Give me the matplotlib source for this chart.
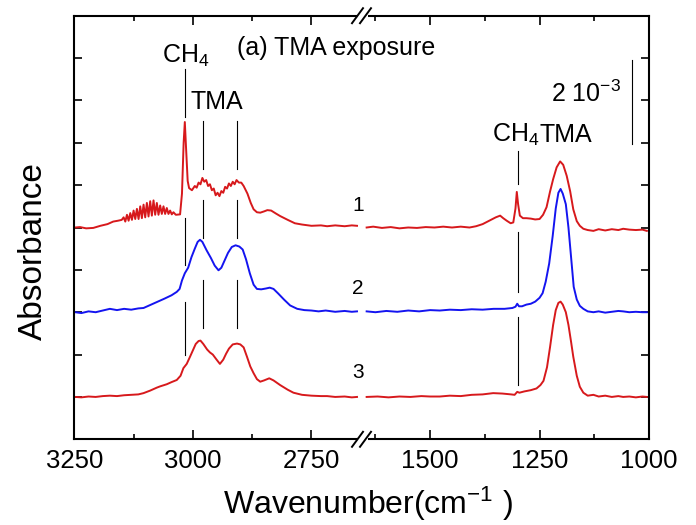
import matplotlib
matplotlib.use("Agg")
import matplotlib.pyplot as plt
from matplotlib.lines import Line2D
import numpy as np

# ================== DATA (absorbance in units of 1e-3, relative to each baseline) ==================
# spectrum 1 (red, top), high wavenumber part
wn1_hi = [3248, 3238, 3225, 3210, 3195, 3180, 3168, 3158, 3150,
          3146.0, 3142.5, 3139.0, 3135.5, 3132.0, 3128.5, 3125.0, 3121.5, 3118.0, 3114.5,
          3111.0, 3107.5, 3104.0, 3100.5, 3097.0, 3093.5, 3090.0, 3086.5, 3083.0, 3079.5,
          3076.0, 3072.5, 3069.0, 3065.5, 3062.0, 3058.5, 3055.0, 3051.5, 3048.0, 3044.5, 3041.0,
          3036, 3027, 3023, 3019.5, 3017, 3014.5, 3011, 3008, 3002,
          2996, 2992, 2988, 2984, 2980, 2976, 2972, 2968, 2964, 2960, 2956, 2952, 2948, 2944,
          2940, 2936, 2932, 2928, 2924, 2920, 2916, 2912, 2908, 2903, 2898, 2893, 2885, 2878,
          2872, 2865, 2858, 2850, 2843, 2835, 2825, 2816, 2800, 2785, 2770, 2750, 2730, 2717,
          2700, 2680, 2665, 2654]
ab1_hi = [0.00, 0.01, -0.02, -0.01, 0.04, 0.08, 0.14, 0.16, 0.18,
          0.24, 0.14, 0.30, 0.16, 0.34, 0.18, 0.40, 0.20, 0.44, 0.20,
          0.50, 0.22, 0.54, 0.24, 0.58, 0.26, 0.62, 0.28, 0.64, 0.30,
          0.58, 0.30, 0.52, 0.32, 0.50, 0.32, 0.46, 0.32, 0.40, 0.31, 0.36,
          0.30, 0.31, 0.80, 2.00, 2.49, 1.90, 1.10, 0.93, 0.88,
          0.98, 0.94, 1.06, 1.02, 1.17, 1.08, 1.12, 0.98, 1.02, 0.88, 0.92, 0.76, 0.82, 0.74,
          0.86, 0.82, 0.96, 0.92, 1.04, 0.98, 1.08, 1.02, 1.12, 1.06, 1.06, 0.98, 0.80, 0.58,
          0.43, 0.36, 0.35, 0.38, 0.41, 0.40, 0.33, 0.27, 0.18, 0.10, 0.07, 0.04, 0.05, 0.03,
          0.05, 0.03, 0.05, 0.04]

# spectrum 1, low wavenumber part
wn1_lo = [1645, 1630, 1610, 1590, 1570, 1550, 1530, 1510, 1490, 1470, 1450, 1430, 1410,
          1395, 1380, 1365, 1350, 1340, 1333, 1325, 1316, 1310, 1305, 1302, 1299, 1295,
          1288, 1280, 1270, 1260, 1250, 1242, 1234, 1226, 1219, 1211, 1203, 1196, 1188,
          1180, 1173, 1165, 1158, 1150, 1140, 1127, 1115, 1100, 1085, 1070, 1059, 1045,
          1030, 1015, 1005]
ab1_lo = [0.00, 0.02, -0.01, 0.01, -0.02, 0.00, -0.01, 0.01, 0.00, 0.02, 0.00, 0.02, 0.00,
          0.03, 0.08, 0.16, 0.24, 0.28, 0.22, 0.16, 0.10, 0.12, 0.45, 0.84, 0.55, 0.28,
          0.22, 0.22, 0.21, 0.19, 0.20, 0.30, 0.48, 0.85, 1.14, 1.42, 1.56, 1.48, 1.22,
          0.85, 0.43, 0.15, 0.04, -0.03, -0.06, -0.08, -0.04, -0.07, -0.04, -0.06, -0.03, -0.05,
          -0.06, -0.05, -0.08]

# spectrum 2 (blue, middle)
wn2_hi = [3248, 3235, 3220, 3205, 3190, 3175, 3160, 3145, 3130, 3115, 3104, 3090, 3076,
          3060, 3045, 3034, 3028, 3023, 3017, 3010, 3003, 2996, 2990, 2985, 2980, 2971,
          2962, 2954, 2946, 2940, 2934, 2926, 2918, 2910, 2902, 2895, 2888, 2880, 2872,
          2865, 2856, 2846, 2838, 2830, 2820, 2808, 2795, 2780, 2765, 2750, 2735, 2720,
          2700, 2680, 2665, 2654]
ab2_hi = [0.00, -0.02, 0.02, 0.00, 0.04, 0.08, 0.05, 0.08, 0.06, 0.09, 0.10, 0.17, 0.24,
          0.32, 0.40, 0.48, 0.55, 0.75, 0.92, 1.05, 1.30, 1.50, 1.66, 1.71, 1.66, 1.46,
          1.28, 1.10, 0.99, 1.05, 1.20, 1.40, 1.54, 1.58, 1.55, 1.48, 1.25, 0.92, 0.65,
          0.55, 0.54, 0.56, 0.58, 0.55, 0.44, 0.30, 0.16, 0.08, 0.05, 0.04, 0.02, 0.04,
          0.01, 0.03, 0.01, 0.02]
wn2_lo = [1645, 1625, 1600, 1575, 1550, 1525, 1500, 1478, 1455, 1430, 1405, 1380, 1355,
          1330, 1312, 1305, 1301, 1297, 1290, 1280, 1270, 1260, 1250, 1243, 1236, 1228,
          1220, 1213, 1207, 1202, 1197, 1190, 1184, 1178, 1172, 1165, 1158, 1150, 1140,
          1127, 1115, 1100, 1085, 1070, 1059, 1045, 1030, 1015, 1005]
ab2_lo = [0.02, 0.00, 0.03, 0.01, 0.04, 0.02, 0.05, 0.04, 0.06, 0.05, 0.07, 0.06, 0.08,
          0.08, 0.10, 0.13, 0.20, 0.14, 0.14, 0.18, 0.20, 0.25, 0.34, 0.45, 0.72, 1.15,
          1.80, 2.45, 2.82, 2.91, 2.80, 2.55, 2.00, 1.30, 0.60, 0.30, 0.15, 0.08, 0.02,
          0.00, 0.02, -0.01, 0.01, 0.03, 0.02, 0.00, 0.01, 0.00, 0.00]

# spectrum 3 (red, bottom)
wn3_hi = [3248, 3235, 3220, 3205, 3190, 3175, 3160, 3145, 3130, 3115, 3104, 3090, 3076,
          3069, 3055, 3045, 3034, 3026, 3020, 3013, 3006, 3000, 2994, 2988, 2984, 2978,
          2970, 2964, 2958, 2950, 2943, 2936, 2930, 2924, 2916, 2907, 2900, 2893, 2886,
          2879, 2872, 2865, 2858, 2850, 2839, 2830, 2816, 2800, 2788, 2770, 2750, 2730,
          2717, 2700, 2680, 2665, 2654]
ab3_hi = [0.00, -0.01, 0.01, 0.00, 0.02, 0.03, 0.02, 0.04, 0.05, 0.06, 0.09, 0.15, 0.22,
          0.25, 0.30, 0.35, 0.40, 0.50, 0.68, 0.78, 0.95, 1.10, 1.25, 1.32, 1.33, 1.25,
          1.12, 1.05, 1.00, 0.88, 0.78, 0.88, 1.02, 1.14, 1.24, 1.26, 1.24, 1.17, 0.95,
          0.72, 0.56, 0.42, 0.36, 0.39, 0.44, 0.39, 0.28, 0.17, 0.10, 0.05, 0.03, 0.02,
          0.02, 0.00, 0.01, -0.01, 0.00]
wn3_lo = [1645, 1620, 1595, 1570, 1545, 1520, 1500, 1478, 1455, 1430, 1405, 1380, 1356,
          1335, 1315, 1307, 1301, 1296, 1285, 1270, 1257, 1248, 1241, 1233, 1226, 1219,
          1213, 1207, 1202, 1197, 1190, 1184, 1178, 1173, 1165, 1158, 1150, 1140, 1127,
          1115, 1100, 1085, 1070, 1059, 1045, 1030, 1015, 1005]
ab3_lo = [0.00, 0.01, -0.01, 0.01, 0.00, 0.02, 0.01, 0.01, 0.03, 0.02, 0.05, 0.06, 0.09,
          0.08, 0.06, 0.05, 0.12, 0.10, 0.13, 0.16, 0.20, 0.28, 0.38, 0.70, 1.18, 1.70,
          2.05, 2.22, 2.25, 2.18, 2.00, 1.70, 1.30, 0.95, 0.50, 0.24, 0.10, 0.03, 0.05,
          0.01, 0.03, 0.00, 0.02, 0.00, 0.01, -0.01, 0.01, 0.00]

offsets = [5.0, 3.0, 1.0]          # baselines (1e-3)
colors = ["#d7191c", "#1414f0", "#d7191c"]
curve_labels = ["1", "2", "3"]

# marker lines: wavenumber, list of (bottom, top) segments in 1e-3
markers_hi = [(3017, [(7.61, 8.74), (4.12, 5.23), (1.99, 3.24)]),
              (2978, [(6.38, 7.51), (4.75, 5.65), (2.62, 3.76)]),
              (2907, [(6.38, 7.51), (4.75, 5.65), (2.62, 3.76)])]
markers_lo = [(1300, [(6.03, 6.81), (3.48, 4.90), (1.28, 2.89)])]

scale_bar = (1038, 6.97, 8.95)
unit = 1e-3

# ================== STYLE ==================
plt.rcParams['font.family'] = ['Liberation Sans', 'DejaVu Sans']
plt.rcParams['mathtext.fontset'] = 'custom'
plt.rcParams['mathtext.rm'] = 'Liberation Sans'
plt.rcParams['mathtext.it'] = 'Liberation Sans:italic'
plt.rcParams['mathtext.bf'] = 'Liberation Sans:bold'

W, H = 696, 525
fig = plt.figure(figsize=(W / 100, H / 100), dpi=100)

def box(x0, y0, x1, y1):
    return [x0 / W, 1 - y1 / H, (x1 - x0) / W, (y1 - y0) / H]

xb = 362.7
ax1 = fig.add_axes(box(74.3, 15.7, xb, 439.3))
ax2 = fig.add_axes(box(xb, 15.7, 649, 439.3))

hi = [(wn1_hi, ab1_hi), (wn2_hi, ab2_hi), (wn3_hi, ab3_hi)]
lo = [(wn1_lo, ab1_lo), (wn2_lo, ab2_lo), (wn3_lo, ab3_lo)]

for (x, y), off, c in zip(hi, offsets, colors):
    ax1.plot(x, (np.array(y) + off) * unit, color=c, lw=1.4)
for (x, y), off, c in zip(lo, offsets, colors):
    ax2.plot(x, (np.array(y) + off) * unit, color=c, lw=1.4)

for wn, segs in markers_hi:
    for b, t in segs:
        ax1.plot([wn, wn], [b * unit, t * unit], color="black", lw=0.8)
for wn, segs in markers_lo:
    for b, t in segs:
        ax2.plot([wn, wn], [b * unit, t * unit], color="black", lw=0.8)
ax2.plot([scale_bar[0]] * 2, [scale_bar[1] * unit, scale_bar[2] * unit], color="black", lw=0.8)

ax1.set_xlim(3250, 2642)
ax2.set_xlim(1654, 1000)
for ax in (ax1, ax2):
    ax.set_ylim(0, 0.01)
    ax.set_yticks(np.arange(0, 0.0101, 0.001))
    ax.patch.set_visible(False)
    for s in ax.spines.values():
        s.set_linewidth(1.5)
    ax.tick_params(axis="both", which="both", direction="in", top=True, width=1.2)
    ax.tick_params(axis="x", which="major", length=6.5, labelsize=18.5, pad=7)
    ax.tick_params(axis="x", which="minor", length=3.5)
    ax.tick_params(axis="y", length=5.5)

ax1.set_xticks([3250, 3000, 2750])
ax1.set_xticks([3125, 2875], minor=True)
ax2.set_xticks([1500, 1250, 1000])
ax2.set_xticks([1625, 1375, 1125], minor=True)

ax1.spines["right"].set_visible(False)
ax2.spines["left"].set_visible(False)
ax1.tick_params(axis="y", left=True, right=False, labelleft=False)
ax2.tick_params(axis="y", left=False, right=True, labelleft=False, labelright=False)

# ================== TEXT ==================
fs = 18
ax1.text(3065, 9.05 * unit, "CH$_4$", fontsize=fs, ha="left", va="center")
ax1.text(2950, 7.96 * unit, "TMA", fontsize=fs, ha="center", va="center")
ax1.text(2907, 9.24 * unit, "(a) TMA exposure", fontsize=fs, ha="left", va="center")
ax2.text(1359, 7.18 * unit, "CH$_4$", fontsize=fs, ha="left", va="center")
ax2.text(1249, 7.18 * unit, "TMA", fontsize=fs, ha="left", va="center")
ax2.text(1063, 8.16 * unit, "2 10$^{-3}$", fontsize=fs, ha="right", va="center")

for lab, yl in zip(curve_labels, [5.51, 3.55, 1.57]):
    ax1.text(2652, yl * unit, lab, fontsize=15, ha="center", va="center")

fig.text(33.5 / W, 1 - 251 / H, "Absorbance", fontsize=24, rotation=90, ha="center", va="center")
fig.text(368 / W, 1 - 514 / H, "Wavenumber(cm$^{-1}$ )", fontsize=23, ha="center", va="baseline")

# ================== AXIS BREAK ==================
def fl(xs, ys, **kw):
    fig.add_artist(Line2D([x / W for x in xs], [1 - y / H for y in ys], transform=fig.transFigure, **kw))

for yc in (439.3, 15.7):
    fl([357.5, 367.5], [yc, yc], color="white", lw=4, solid_capstyle="butt")
    fl([352, 363], [yc + 7.5, yc - 7.5], color="black", lw=1.4)
    fl([360, 371], [yc + 7.5, yc - 7.5], color="black", lw=1.4)

fig.savefig("out.png", dpi=100)
